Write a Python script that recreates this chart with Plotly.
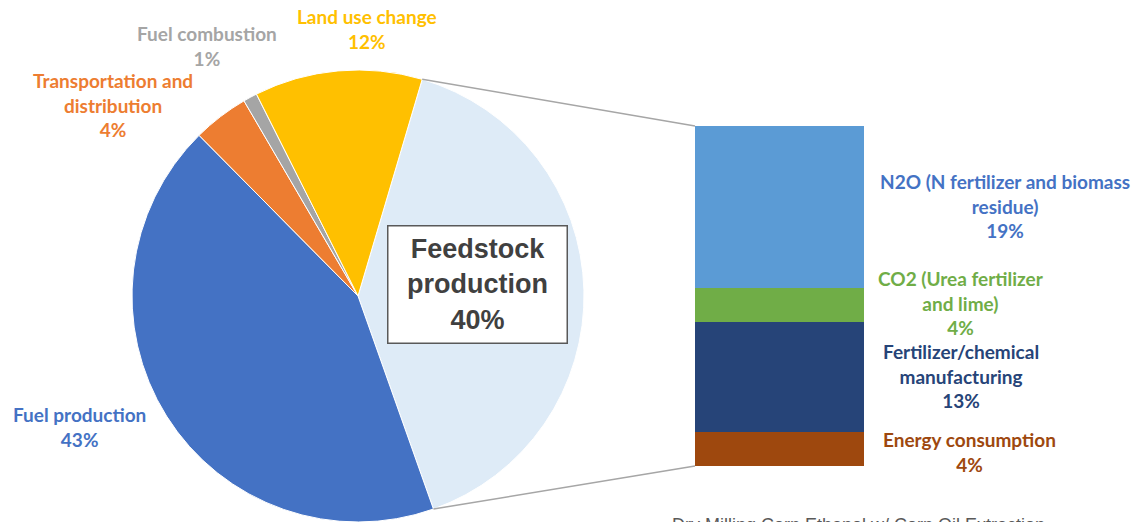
import math
import plotly.graph_objects as go

W, H = 1132, 522

# ---- data ----
pie_labels = ["Feedstock production", "Fuel production", "Transportation and distribution",
              "Fuel combustion", "Land use change"]
pie_values = [40, 43, 4, 1, 12]
pie_colors = ["#DEEBF7", "#4472C4", "#ED7D31", "#A5A5A5", "#FFC000"]

bar_labels = ["Energy consumption", "Fertilizer/chemical manufacturing",
              "CO2 (Urea fertilizer and lime)", "N2O (N fertilizer and biomass residue)"]
bar_values = [4, 13, 4, 19]
bar_colors = ["#9E480E", "#264478", "#70AD47", "#5B9BD5"]

caption = "Dry Milling Corn Ethanol w/ Corn Oil Extraction"

# ---- layout geometry (pixels) ----
cx, cy, R = 358, 296, 226
rotation = 16.5
bar_x0, bar_x1, bar_top, bar_bot = 695, 864, 126, 466

fig = go.Figure()

pie_dom_x = [(cx - R) / W, (cx + R) / W]
pie_dom_y = [(H - cy - R) / H, (H - cy + R) / H]
fig.add_trace(go.Pie(
    labels=pie_labels, values=pie_values, sort=False, direction="clockwise",
    rotation=rotation, marker=dict(colors=pie_colors, line=dict(color="white", width=1)),
    textinfo="none", hoverinfo="label+percent", showlegend=False,
    domain=dict(x=pie_dom_x, y=pie_dom_y),
))

for lab, v, c in zip(bar_labels, bar_values, bar_colors):
    fig.add_trace(go.Bar(x=[0], y=[v], name=lab, marker=dict(color=c, line=dict(width=0)),
                         width=1, showlegend=False, xaxis="x", yaxis="y"))

total_bar = sum(bar_values)
fig.update_layout(
    barmode="stack",
    width=W, height=H,
    margin=dict(l=0, r=0, t=0, b=0),
    paper_bgcolor="white", plot_bgcolor="white",
    xaxis=dict(domain=[bar_x0 / W, bar_x1 / W], range=[-0.5, 0.5], visible=False, fixedrange=True),
    yaxis=dict(domain=[(H - bar_bot) / H, (H - bar_top) / H], range=[0, total_bar],
               visible=False, fixedrange=True),
)

# connector lines from feedstock slice edges to bar
frac = pie_values[0] / sum(pie_values)
a0 = math.radians(rotation)
a1 = math.radians(rotation + 360 * frac)
p0 = (cx + R * math.sin(a0), cy - R * math.cos(a0))
p1 = (cx + R * math.sin(a1), cy - R * math.cos(a1))
for (px, py), yv in [(p0, total_bar), (p1, 0)]:
    fig.add_shape(type="line", xref="paper", yref="paper",
                  x0=px / W, y0=(H - py) / H, x1=bar_x0 / W, y1=(H - (bar_top if yv else bar_bot)) / H,
                  line=dict(color="#A6A6A6", width=1.5))

FONT = "Lato"

def blab(text, x, y, color):
    fig.add_annotation(text="<b>" + text + "</b>", x=x / W, y=(H - y) / H, xref="paper", yref="paper",
                       showarrow=False, xanchor="center", yanchor="middle",
                       font=dict(family=FONT, size=19, color=color))

blab("Land use change<br>12%", 367, 29, pie_colors[4])
blab("Fuel combustion<br>1%", 207, 46, pie_colors[3])
blab("Transportation and<br>distribution<br>4%", 113, 105, pie_colors[2])
blab("Fuel production<br>43%", 79, 427, pie_colors[1])

blab("N2O (N fertilizer and biomass<br>residue)<br>19%", 1005, 206, "#4472C4")
blab("CO2 (Urea fertilizer<br>and lime)<br>4%", 961, 303, bar_colors[2])
blab("Fertilizer/chemical<br>manufacturing<br>13%", 961, 376, bar_colors[1])
blab("Energy consumption<br>4%", 969, 452, bar_colors[0])

fig.add_annotation(text="<b>Feedstock<br>production<br>%d%%</b>" % pie_values[0],
                   x=477.5 / W, y=(H - 285) / H, xref="paper", yref="paper",
                   showarrow=False, xanchor="center", yanchor="middle",
                   width=172, height=110, bgcolor="white", bordercolor="#595959", borderwidth=1.5,
                   borderpad=3,
                   font=dict(family="Liberation Sans", size=27, color="#404040"))

fig.add_annotation(text=caption, x=670 / W, y=(H - 513) / H, xref="paper", yref="paper",
                   showarrow=False, xanchor="left", yanchor="top",
                   font=dict(family="Liberation Sans", size=18, color="#595959"))

fig.write_html("out.html")
